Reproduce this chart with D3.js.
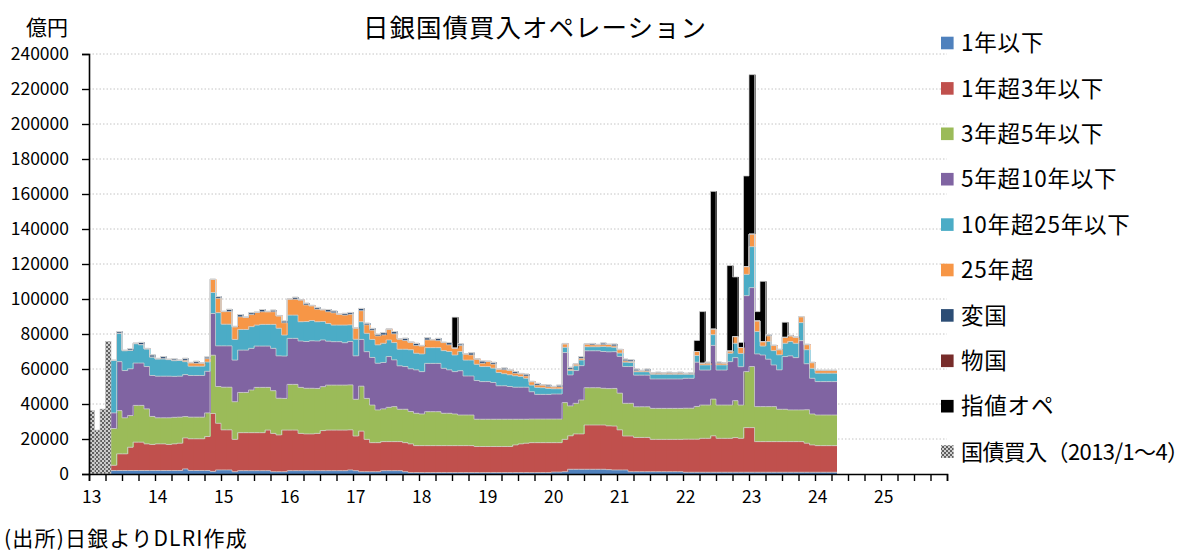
<!DOCTYPE html>
<html><head><meta charset="utf-8">
<script src="https://cdn.jsdelivr.net/npm/d3@7/dist/d3.min.js"></script>
<style>
html,body{margin:0;padding:0;background:#fff;}
svg{display:block;font-family:"Noto Sans CJK JP","Noto Sans",sans-serif;}
</style></head><body>
<svg id="chart" width="1200" height="552"></svg>
<script>
// ---- data (億円), monthly from 2013/1 to 2024/4 ----
const startYear = 2013;
const yearLabels = ["13","14","15","16","17","18","19","20","21","22","23","24","25"];
const seriesNames = ["1年以下","1年超3年以下","3年超5年以下","5年超10年以下","10年超25年以下","25年超","変国","物国","指値オペ","国債買入（2013/1～4）"];

const upTo1 = [
 0,0,0,0,2000,2000,2000,2000,2000,2000,2000,2000,
 2000,2000,2000,2000,2000,2900,2000,2000,2000,2000,1500,2300,
 2300,2300,1300,1900,1900,1900,1900,1900,1900,1300,1300,1300,
 1900,1900,1900,1900,1900,1900,1900,1900,1900,1900,1900,2300,
 1900,1300,1300,1300,1300,1900,1900,1900,1900,1300,800,800,
 800,800,800,800,800,800,800,800,800,800,800,800,
 800,800,800,800,800,800,800,800,800,800,800,800,
 1100,1100,1300,2700,2700,2700,2700,2700,2700,2700,2500,2300,
 2300,2300,1300,1300,1300,1300,1300,1300,1300,1300,1300,1300,
 1000,1000,1000,1000,1000,1000,1000,1000,1000,1000,1000,1000,
 1000,1000,1000,1000,1000,1000,1000,1000,1000,1000,1000,1000,
 1000,1000,1000,1000];
const y1to3 = [
 0,0,0,0,3000,9500,9500,13300,16200,16200,15200,14900,
 15200,15200,14900,15200,15600,17700,18100,18100,18100,19400,33100,26700,
 22900,22900,18500,21700,21700,21700,21700,21700,23200,21900,21000,23800,
 23200,23200,21300,21000,21000,21300,22900,23200,23200,23200,23200,22900,
 19800,23200,18500,16600,16600,16600,16600,16600,16600,16600,16400,15400,
 15400,15400,15400,15400,15400,15400,15400,15400,15400,15400,14900,14900,
 14900,14900,14900,14900,14900,15800,16400,16800,17100,17100,17100,17100,
 16800,16800,18500,19100,20200,20200,25300,25300,25300,25300,25000,25100,
 22900,19400,20400,19600,19600,19600,18500,18500,18500,18500,18500,18500,
 18900,18900,18900,19400,19400,20800,19400,19400,19400,19800,19400,25500,
 25500,17500,17500,17500,17500,17500,17500,17500,17500,17500,16600,15600,
 15200,15200,15200,15200];
const y3to5 = [
 0,0,0,0,21000,24700,20600,18100,21000,21000,20000,16000,
 14900,14900,15200,15200,14900,12200,12400,12400,12400,13500,33300,21000,
 24400,24400,21500,23000,23000,24400,25900,25900,24400,24400,21000,18100,
 26100,26100,26300,26100,26100,25700,25100,25700,25700,25700,25700,25700,
 21000,25700,23400,21500,18700,18700,19600,20000,18500,19100,18500,18500,
 18100,19400,19400,19400,18500,18500,18100,17500,17500,17500,15600,15600,
 15600,15600,15600,15600,15600,14700,14100,13700,13500,13500,13500,13500,
 13500,13500,21000,17100,17500,19400,21300,21300,21300,21000,21300,21500,
 21000,18700,18700,17500,17500,17500,17700,17700,17700,17700,17700,17700,
 17700,17700,18700,19000,19000,21000,19000,19000,19000,21100,19000,32000,
 34900,20000,20000,20000,20000,18500,18500,18100,18100,18100,19100,17700,
 17500,17500,17500,17500];
const y5to10 = [
 0,0,0,0,8900,28000,27000,26700,24200,24200,24200,23400,
 23800,23800,23800,23400,23400,24000,23800,23800,23800,23800,23800,23200,
 23600,23600,23800,24200,24200,23800,23600,23600,23600,24200,24200,24200,
 26300,26300,26500,26700,27100,27100,26700,25100,24800,24800,24200,24800,
 24800,26700,26700,27200,26700,26500,29000,26700,24800,24400,24400,24800,
 24200,27600,27600,27600,25700,24800,24200,25300,22300,22300,22100,21500,
 21500,21000,19100,19100,18700,18300,18300,18300,15600,14100,14100,14100,
 14300,14300,28600,17700,18700,19600,21100,21100,21100,21000,21000,21000,
 21000,21000,21000,18100,18100,18100,16800,16800,16800,16800,16800,16800,
 17100,17100,25300,20000,20000,30700,20000,20000,24800,24600,21900,43400,
 45100,30100,29500,27100,23800,22500,30100,30900,29900,39600,26300,20400,
 19100,19100,19100,19100];
const y10to25 = [
 0,0,0,0,30100,16200,11400,10500,11100,10500,10100,10500,
 9900,9900,9500,9000,9000,7400,5300,5300,5300,5300,12000,19000,
 12400,12400,11800,11800,11800,12400,12000,12400,12400,13700,15800,12000,
 13300,13300,11000,11400,11600,11000,10500,10100,9500,9500,10100,9500,
 9500,10100,10500,10300,10500,11000,9500,9900,9500,9900,10900,9500,
 10100,9000,9000,9000,10100,10500,9500,11000,9100,9100,9300,8600,
 8600,8200,7600,6900,6700,6500,6100,5100,3800,4000,3800,3400,
 3000,3000,3000,2500,2700,3200,2300,2300,2300,2900,2900,2500,
 1900,2500,2300,1900,1900,1900,2700,2700,2700,2700,2700,2700,
 2300,2300,3800,2900,2900,6100,2900,2900,4800,8200,7600,12200,
 23400,12800,5100,10100,8200,8600,7600,8200,8200,10300,8000,5700,
 4800,4800,4800,4800];
const over25 = [
 0,0,0,0,0,0,0,0,0,0,0,0,
 0,0,0,0,0,800,1900,1700,1700,1900,7600,8200,
 7200,7200,7200,7200,6900,6900,7200,7200,7200,7200,7000,7000,
 9100,9100,12400,9500,8400,7200,6700,6700,7000,6100,5700,6100,
 6300,6300,4800,5300,5100,4800,6100,5000,5700,5000,4200,4400,
 4600,4400,4400,4000,4600,3800,3800,3400,3400,2900,2900,1900,
 2900,2300,1900,2300,2500,1500,1500,1300,1900,1300,1500,1000,
 1100,1100,1900,800,1000,1000,1500,1100,1100,1000,1300,800,
 1900,800,600,600,600,600,600,600,600,600,600,600,
 400,400,2300,1000,1000,3200,1000,1000,1300,3800,3400,4400,
 7200,6100,2500,3200,2900,2900,3400,3200,3400,3400,2900,3200,
 1500,1500,1500,1500];
const floating = [
 0,0,0,0,0,1000,0,1000,0,1300,0,1300,
 0,1300,0,1000,0,1100,0,1100,0,1000,0,1000,
 0,1300,0,1300,0,1100,0,1300,0,1000,0,1100,
 0,1100,0,1000,0,1000,0,1300,1100,0,1000,1000,
 0,1300,1000,1000,1000,1300,0,1300,0,1300,0,1300,
 0,1300,0,1300,0,1300,0,1000,0,1300,0,1300,
 0,1000,0,1000,0,1000,0,1100,0,1000,0,1000,
 0,1000,0,1100,0,1000,0,800,0,1000,0,1100,
 0,1000,1000,1000,0,1000,0,600,0,600,0,600,
 0,600,0,0,600,0,700,0,0,0,0,0,
 0,0,0,600,0,0,0,0,0,0,0,0,
 0,0,0,0];
const linkers = [
 0,0,0,0,0,0,300,0,400,0,300,0,
 300,0,300,0,300,0,300,0,300,0,0,0,
 300,0,300,0,300,0,300,0,300,0,300,0,
 300,0,300,0,300,0,300,0,0,300,0,0,
 300,0,0,0,0,0,300,0,300,0,300,0,
 300,0,300,0,300,0,300,0,300,0,300,0,
 300,0,300,0,300,0,300,0,300,0,300,0,
 300,0,300,0,300,0,300,0,300,0,300,0,
 300,0,0,0,300,0,300,0,300,0,300,0,
 300,0,0,0,0,0,0,300,0,0,0,0,
 0,0,0,0,300,300,0,300,300,0,300,300,
 300,300,300,300];
const fixedRate = [
 0,0,0,0,0,0,0,0,0,0,0,0,
 0,0,0,0,0,0,0,0,0,0,0,0,
 0,0,0,0,0,0,0,0,0,0,0,0,
 0,0,0,0,0,0,0,0,0,0,0,0,
 0,0,0,0,0,0,0,0,0,0,0,0,
 0,0,0,0,0,0,17500,0,0,0,0,0,
 0,0,0,0,0,0,0,0,0,0,0,0,
 0,0,0,0,0,0,0,0,0,0,0,0,
 0,0,0,0,0,0,0,0,0,0,0,0,
 0,0,6300,29500,0,78700,0,0,48800,34100,2900,51800,
 91100,5300,34500,0,0,0,8600,0,0,0,0,0,
 0,0,0,0];
const earlyPurchase = [36200,25100,37100,75800];

// ---- build table ----
const keys = ["a","b","c","d","e","f","g","h","k","p"];
const seriesArrays = [upTo1,y1to3,y3to5,y5to10,y10to25,over25,floating,linkers,fixedRate,earlyPurchase];
const colors = ["#4F81BD","#C0504D","#9BBB59","#8064A2","#4BACC6","#F79646","#2C4D75","#772C2A","#000000","url(#chk)"];
const nData = upTo1.length;
const table = d3.range(nData).map(i => {
  const o = {i};
  keys.forEach((k,j) => o[k] = seriesArrays[j][i] || 0);
  return o;
});
const stacked = d3.stack().keys(keys)(table);

const svg = d3.select("#chart");
const defs = svg.append("defs");
const pat = defs.append("pattern").attr("id","chk").attr("width",4).attr("height",4)
  .attr("patternUnits","userSpaceOnUse");
pat.append("rect").attr("width",4).attr("height",4).attr("fill","#cfcfcf");
pat.append("rect").attr("width",2).attr("height",2).attr("fill","#606060");
pat.append("rect").attr("x",2).attr("y",2).attr("width",2).attr("height",2).attr("fill","#606060");

const nMonths = 156;
const x0 = 89, x1 = 947, yTop = 54, yBot = 474;
const x = d3.scaleBand().domain(d3.range(nMonths)).range([x0,x1]).paddingInner(0).paddingOuter(0);
const xLin = d3.scaleLinear().domain([0,nMonths]).range([x0,x1]);
const y = d3.scaleLinear().domain([0,240000]).range([yBot,yTop]);

// gridlines
svg.append("g").selectAll("line").data(d3.range(20000,240001,20000)).join("line")
  .attr("x1",x0).attr("x2",x1).attr("y1",d=>y(d)).attr("y2",d=>y(d))
  .attr("stroke","#c4c4c4").attr("stroke-width",1).attr("stroke-dasharray","1.5,2");

// bars
const bw = x.bandwidth();
const layers = svg.append("g");
stacked.forEach((layer,j) => {
  const rows = layer.filter(d => d[1] > d[0]);
  layers.append("g").attr("fill",colors[j]).selectAll("rect")
    .data(rows).join("rect")
    .attr("x", d => x(d.data.i))
    .attr("width", d => (d.data.i === nData-1 || j === 9) ? bw : bw + 1)
    .attr("y", d => y(d[1]))
    .attr("height", d => y(d[0]) - y(d[1]))
    .attr("stroke", j === 9 ? "#bdbdbd" : "none")
    .attr("stroke-width", 0.6);
});
// boundary outlines between stacked segments
const stepLine = d3.line().x(p => p[0]).y(p => p[1]).curve(d3.curveStepAfter);
stacked.slice(0,9).forEach(layer => {
  const pts = layer.slice(4).map(d => [x(d.data.i), y(d[1])]);
  const last = layer[layer.length-1];
  pts.push([x(last.data.i)+bw, y(last[1])]);
  layers.append("path").attr("d", stepLine(pts)).attr("fill","none")
    .attr("stroke","#d2d2d2").attr("stroke-width",0.7);
});

// y axis
const yAxis = svg.append("g").attr("transform",`translate(${x0},0)`)
  .call(d3.axisLeft(y).tickValues(d3.range(0,240001,20000)).tickSize(7).tickPadding(13).tickFormat(d => String(d)));
yAxis.select(".domain").attr("stroke","#000").attr("stroke-width",1.6);
yAxis.selectAll(".tick line").attr("stroke","#000").attr("stroke-width",1.4);
yAxis.selectAll("text").attr("font-size",17.5).attr("fill","#000")
  .attr("font-family",'"Noto Sans CJK JP",sans-serif');

// x axis: quarterly ticks
const xAxis = svg.append("g").attr("transform",`translate(0,${yBot})`)
  .call(d3.axisBottom(xLin).tickValues(d3.range(0,nMonths+1,3)).tickSize(7).tickFormat(""));
xAxis.select(".domain").attr("stroke","#000").attr("stroke-width",1.6);
xAxis.selectAll(".tick line").attr("stroke","#000").attr("stroke-width",1.4);
// year labels
const xLab = svg.append("g").attr("transform",`translate(0,${yBot})`)
  .call(d3.axisBottom(x).tickValues(d3.range(0,nMonths,12)).tickSize(0).tickPadding(17)
    .tickFormat(i => yearLabels[i/12]));
xLab.select(".domain").remove();
xLab.selectAll("text").attr("font-size",17.5).attr("fill","#000")
  .attr("font-family",'"Noto Sans CJK JP",sans-serif');

// title and unit
svg.append("text").attr("x",535).attr("y",37).attr("text-anchor","middle")
  .attr("font-size",25.5).attr("letter-spacing",1).text("日銀国債買入オペレーション");
svg.append("text").attr("x",68).attr("y",35).attr("text-anchor","end")
  .attr("font-size",21).text("億円");
svg.append("text").attr("x",4).attr("y",546)
  .attr("font-size",21).attr("letter-spacing",1.2).text("(出所)日銀よりDLRI作成");

// legend
const lg = svg.append("g");
seriesNames.forEach((name,j) => {
  const cy = 43 + 45.4*j;
  lg.append("rect").attr("x",941).attr("y",cy-6.3).attr("width",12.6).attr("height",12.6)
    .attr("fill",colors[j]);
  lg.append("text").attr("x",961).attr("y",cy).attr("dy","0.36em")
    .attr("font-size",j === 9 ? 22 : 22.5).attr("letter-spacing",j === 9 ? -0.6 : 0.8).text(name);
});
</script>
</body></html>
